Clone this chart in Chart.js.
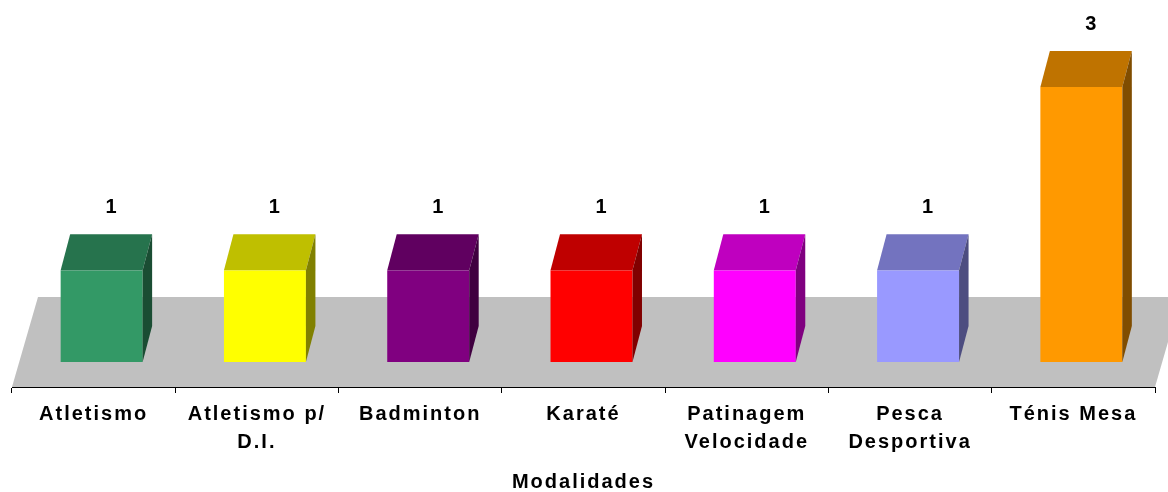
<!DOCTYPE html>
<html>
<head>
<meta charset="utf-8">
<script src="https://cdn.jsdelivr.net/npm/chart.js@4"></script>
<style>
  html, body { margin: 0; padding: 0; background: #fff; }
  canvas { display: block; }
</style>
</head>
<body>
<canvas id="modalidadesChart" width="1168" height="492"></canvas>
<script>
// =======================
// Data
// =======================
const modalidades = [
  'Atletismo',
  ['Atletismo p/', 'D.I.'],
  'Badminton',
  'Karaté',
  ['Patinagem', 'Velocidade'],
  ['Pesca', 'Desportiva'],
  'Ténis Mesa'
];
const atletas = [1, 1, 1, 1, 1, 1, 3];
const barColors = ['#339966', '#FFFF00', '#800080', '#FF0000', '#FF00FF', '#9999FF', '#FF9900'];
const axisTitle = 'Modalidades';

// =======================
// 3D look
// =======================
const FONT = "'Liberation Sans', Arial, sans-serif";
const LETTER_SPACING = '2px';
const BAR_DEPTH = { dx: 9.5, dy: -36 };   // how far the bar goes back
const BAR_SHIFT = { dx: 8, dy: -25 };     // bars stand part way into the floor
const FLOOR_DEPTH = { dx: 26, dy: -90 };

function shade(hex, f) {
  const n = parseInt(hex.slice(1), 16);
  const r = Math.round(((n >> 16) & 255) * f);
  const g = Math.round(((n >> 8) & 255) * f);
  const b = Math.round((n & 255) * f);
  return `rgb(${r},${g},${b})`;
}

function fillPoly(ctx, pts, color) {
  ctx.fillStyle = color;
  ctx.beginPath();
  ctx.moveTo(pts[0][0], pts[0][1]);
  for (let i = 1; i < pts.length; i++) ctx.lineTo(pts[i][0], pts[i][1]);
  ctx.closePath();
  ctx.fill();
}

// Excel-like wide text
const spacingPlugin = {
  id: 'spacing',
  beforeUpdate(chart) { chart.ctx.letterSpacing = LETTER_SPACING; },
  beforeDraw(chart) { chart.ctx.letterSpacing = LETTER_SPACING; }
};

// grey floor under the bars
const floorPlugin = {
  id: 'floor',
  beforeDraw(chart) {
    const { ctx, chartArea: a } = chart;
    ctx.save();
    fillPoly(ctx, [
      [a.left, a.bottom],
      [a.right, a.bottom],
      [a.right + FLOOR_DEPTH.dx, a.bottom + FLOOR_DEPTH.dy],
      [a.left + FLOOR_DEPTH.dx, a.bottom + FLOOR_DEPTH.dy]
    ], '#C0C0C0');
    ctx.restore();
  }
};

// boxes: front, top and right side, plus the value over each one
const bars3dPlugin = {
  id: 'bars3d',
  beforeDatasetsDraw(chart) {
    const { ctx } = chart;
    const ds = chart.data.datasets[0];
    const meta = chart.getDatasetMeta(0);
    ctx.save();
    meta.data.forEach((bar, i) => {
      const { x, y, base, width } = bar.getProps(['x', 'y', 'base', 'width'], true);
      const x0 = x - width / 2 + BAR_SHIFT.dx;
      const x1 = x + width / 2 + BAR_SHIFT.dx;
      const y0 = y + BAR_SHIFT.dy;
      const y1 = base + BAR_SHIFT.dy;
      const color = ds.backgroundColor[i];
      const bx = BAR_DEPTH.dx, by = BAR_DEPTH.dy;

      ctx.fillStyle = color;
      ctx.fillRect(x0, y0, x1 - x0, y1 - y0);
      fillPoly(ctx, [[x0, y0], [x1, y0], [x1 + bx, y0 + by], [x0 + bx, y0 + by]], shade(color, 0.75));
      fillPoly(ctx, [[x1, y0], [x1 + bx, y0 + by], [x1 + bx, y1 + by], [x1, y1]], shade(color, 0.5));

      ctx.fillStyle = '#000';
      ctx.font = `bold 20px ${FONT}`;
      ctx.textAlign = 'center';
      ctx.textBaseline = 'middle';
      ctx.fillText(String(ds.data[i]), (x0 + x1) / 2 + bx + 1, y0 + by - 27);
    });
    ctx.restore();
    return false;
  }
};

// =======================
// Chart
// =======================
new Chart(document.getElementById('modalidadesChart'), {
  type: 'bar',
  data: {
    labels: modalidades,
    datasets: [{
      data: atletas,
      backgroundColor: barColors,
      categoryPercentage: 1,
      barPercentage: 0.502
    }]
  },
  options: {
    responsive: false,
    animation: false,
    devicePixelRatio: 1,
    events: [],
    layout: { padding: { top: 112, left: 12, right: 13, bottom: 0 } },
    plugins: {
      legend: { display: false },
      tooltip: { enabled: false }
    },
    scales: {
      x: {
        offset: true,
        grid: { offset: true, drawOnChartArea: false, drawTicks: true, tickLength: 6, color: '#000', lineWidth: 1 },
        border: { display: true, color: '#000', width: 1 },
        ticks: {
          color: '#000',
          font: { family: FONT, size: 20, weight: 'bold', lineHeight: 1.42 },
          padding: 7,
          maxRotation: 0,
          autoSkip: false
        },
        title: {
          display: true,
          text: axisTitle,
          color: '#000',
          font: { family: FONT, size: 20, weight: 'bold', lineHeight: 1 },
          padding: { top: 0, bottom: 0 }
        },
        afterFit(scale) { scale.height = 105; }
      },
      y: { display: false, min: 0, max: 3 }
    }
  },
  plugins: [spacingPlugin, floorPlugin, bars3dPlugin]
});
</script>
</body>
</html>
